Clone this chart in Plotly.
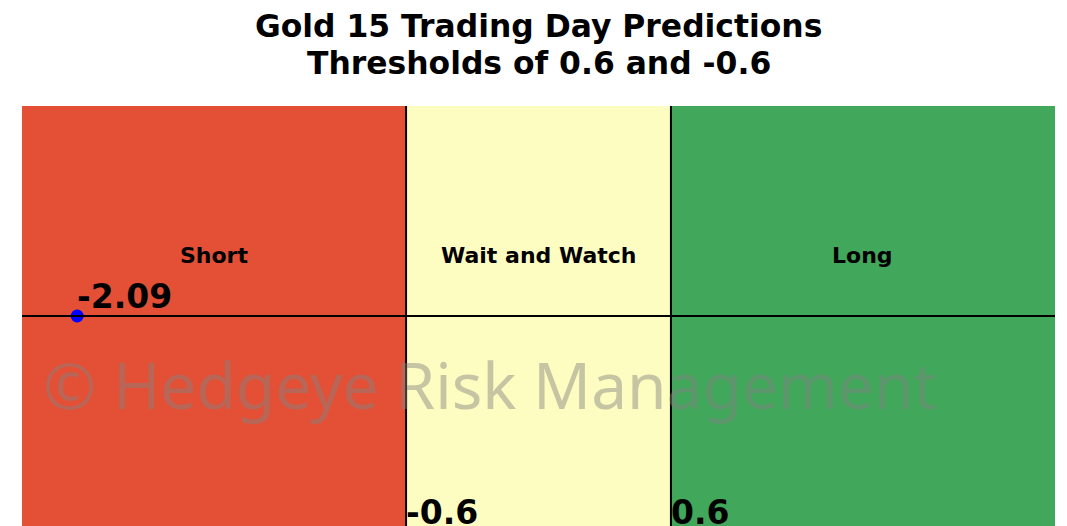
import plotly.graph_objects as go

# Data
title_lines = ["Gold 15 Trading Day Predictions", "Thresholds of 0.6 and -0.6"]
zone_names = ["Short", "Wait and Watch", "Long"]
zone_starts = [-2.34, -0.6, 0.6]
zone_ends = [-0.6, 0.6, 2.34]
zone_colors = ["#E45035", "#FEFDC1", "#41A85B"]
thresholds = [-0.6, 0.6]
threshold_labels = ["-0.6", "0.6"]
prediction = -2.09
prediction_label = "-2.09"
x_range = [-2.34, 2.34]
y_range = [-1, 1]
label_y = 0.29

fig = go.Figure()

shapes = []
for x0, x1, c in zip(zone_starts, zone_ends, zone_colors):
    shapes.append(dict(type="rect", xref="x", yref="y", x0=x0, x1=x1, y0=y_range[0], y1=y_range[1],
                       fillcolor=c, line=dict(width=0), layer="below"))
for t in thresholds:
    shapes.append(dict(type="line", xref="x", yref="y", x0=t, x1=t, y0=y_range[0], y1=y_range[1],
                       line=dict(color="black", width=2)))
shapes.append(dict(type="line", xref="x", yref="y", x0=x_range[0], x1=x_range[1], y0=0, y1=0,
                   line=dict(color="black", width=2)))

fig.add_trace(go.Scatter(x=[prediction], y=[0], mode="markers",
                         marker=dict(color="blue", size=13), showlegend=False, hoverinfo="skip"))

annotations = []
for line, ty in zip(title_lines, [1.1905, 1.1024]):
    annotations.append(dict(x=0.5, y=ty, xref="paper", yref="paper", text="<b>" + line + "</b>",
                            showarrow=False, xanchor="center", yanchor="middle",
                            font=dict(family="DejaVu Sans", size=31.4, color="black")))
for name, x0, x1 in zip(zone_names, zone_starts, zone_ends):
    annotations.append(dict(x=(x0 + x1) / 2, y=label_y, xref="x", yref="y", text="<b>" + name + "</b>",
                            showarrow=False, font=dict(family="DejaVu Sans", size=22, color="black")))
for t, lab in zip(thresholds, threshold_labels):
    annotations.append(dict(x=t, y=y_range[0], xref="x", yref="y", text="<b>" + lab + "</b>",
                            showarrow=False, xanchor="left", yanchor="bottom", xshift=-2, yshift=-8,
                            font=dict(family="DejaVu Sans", size=33, color="black")))
annotations.append(dict(x=prediction, y=0, xref="x", yref="y", text="<b>" + prediction_label + "</b>",
                        showarrow=False, xanchor="left", yanchor="bottom", xshift=-2, yshift=-2,
                        font=dict(family="DejaVu Sans", size=33, color="black")))
annotations.append(dict(x=0.453, y=0.338, xref="paper", yref="paper", text="© Hedgeye Risk Management",
                        showarrow=False, xanchor="center", yanchor="middle",
                        font=dict(family="Noto Sans", size=64, color="rgba(128,128,128,0.45)")))

fig.update_layout(
    width=1067, height=526,
    margin=dict(l=14, r=20, t=98, b=8),
    paper_bgcolor="white", plot_bgcolor="white",
    xaxis=dict(range=x_range, visible=False, fixedrange=True),
    yaxis=dict(range=y_range, visible=False, fixedrange=True),
    shapes=shapes, annotations=annotations,
)

fig.write_html("out.html")
